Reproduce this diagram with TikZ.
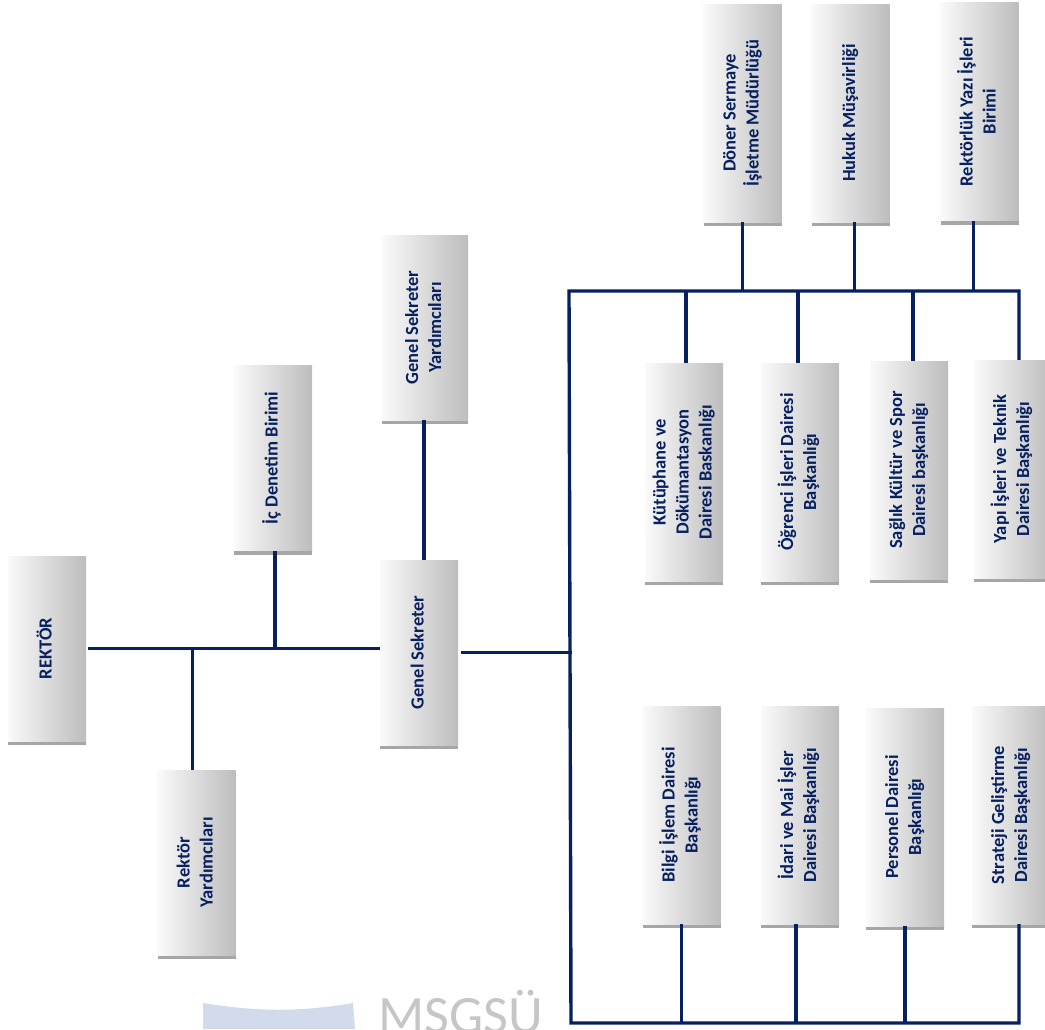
\documentclass[tikz,border=0pt]{standalone}
\usepackage{fontspec}
\setmainfont{Carlito}
\usetikzlibrary{shadows}
\definecolor{navy}{HTML}{062060}
\definecolor{logoblue}{HTML}{D2DBEC}
\newcommand{\vlab}[1]{\rotatebox{90}{\begin{tabular}{@{}c@{}}#1\end{tabular}}}
\tikzset{
  unit/.style={minimum width=78,minimum height=185,inner sep=0,
    left color=gray!4,middle color=gray!14,right color=gray!52,
    general shadow={fill=gray!70,shadow yshift=-4pt},
    text=navy,font=\fontsize{18.5}{23}\selectfont\bfseries},
  tall/.style={unit,minimum height=218},
  link/.style={navy,line width=3.4pt}
}
\begin{document}
\begin{tikzpicture}[x=1pt,y=-1pt]
\useasboundingbox (0,0) rectangle (1045,1029);
\fill[logoblue] (203,1029) -- (203,1003) .. controls (260,1012) and (300,1012) .. (353,1003) -- (355,1029) -- cycle;
\node[anchor=base west,text=gray!45,font=\fontsize{54}{54}\selectfont,inner sep=0] (logo) at (378,1033) {MSGSÜ};
\node[unit] (rektor) at (47,648.5) {\vlab{REKTÖR}};
\node[unit] (ryard) at (196.5,862.5) {\vlab{Rektör\\Yardımcıları}};
\node[unit] (icden) at (273,458) {\vlab{İç Denetim Birimi}};
\node[unit,minimum width=86] (gsyard) at (425,327.5) {\vlab{Genel Sekreter\\Yardımcıları}};
\node[unit] (gs) at (419,652.5) {\vlab{Genel Sekreter}};
\node[tall] (doner) at (742.5,113) {\vlab{Döner Sermaye\\İşletme Müdürlüğü}};
\node[tall] (hukuk) at (850.5,113) {\vlab{Hukuk Müşavirliği}};
\node[tall] (yazi) at (979.5,111.5) {\vlab{Rektörlük Yazı İşleri\\Birimi}};
\node[tall] (kutup) at (684,472) {\vlab{Kütüphane ve\\Dökümantasyon\\Dairesi Baskanlığı}};
\node[tall] (ogr) at (800,472) {\vlab{Öğrenci İşleri Dairesi\\Başkanlığı}};
\node[tall] (saglik) at (909,470) {\vlab{Sağlık Kültür ve Spor\\Dairesi başkanlığı}};
\node[tall] (yapi) at (1013,469) {\vlab{Yapı İşleri ve Teknik\\Dairesi Başkanlığı}};
\node[tall] (bilgi) at (681.5,815) {\vlab{Bilgi İşlem Dairesi\\Başkanlığı}};
\node[tall] (idari) at (800,815) {\vlab{İdari ve Mai İşler\\Dairesi Başkanlığı}};
\node[tall] (pers) at (905,817) {\vlab{Personel Dairesi\\Başkanlığı}};
\node[tall] (strat) at (1011,815) {\vlab{Strateji Geliştirme\\Dairesi Başkanlığı}};
\coordinate (bustop) at (569,291);
\coordinate (busbot) at (571,1023);
\coordinate (topend) at (1019,291);
\coordinate (botend) at (1019,1023);
\draw[link] ([xshift=2]rektor.east) -- (gs.west |- rektor.east);
\draw[link] ([xshift=-4]ryard.north) -- ([xshift=-4]ryard.north |- rektor.east);
\draw[link] ([xshift=2]icden.south) -- ([xshift=2]icden.south |- rektor.east);
\draw[link] ([xshift=-1]gsyard.south) -- ([xshift=-1]gsyard.south |- gs.north);
\draw[link] ([xshift=3]gs.east) -- ([xshift=3]gs.east -| bustop);
\draw[link] (topend |- yapi.north) -- (topend) -- (bustop) -- (busbot) -- (botend) -- (botend |- strat.south);
\draw[link] (doner.south) -- (doner.south |- bustop);
\draw[link] ([xshift=4]hukuk.south) -- ([xshift=4]hukuk.south |- bustop);
\draw[link] ([xshift=-6]yazi.south) -- ([xshift=-6]yazi.south |- bustop);
\draw[link] ([xshift=2]kutup.north) -- ([xshift=2]kutup.north |- bustop);
\draw[link] ([xshift=-2]ogr.north) -- ([xshift=-2]ogr.north |- bustop);
\draw[link] ([xshift=4]saglik.north) -- ([xshift=4]saglik.north |- bustop);
\draw[link] (bilgi.south) -- (bilgi.south |- busbot);
\draw[link] ([xshift=-4]idari.south) -- ([xshift=-4]idari.south |- busbot);
\draw[link] (pers.south) -- (pers.south |- busbot);
\end{tikzpicture}
\end{document}
